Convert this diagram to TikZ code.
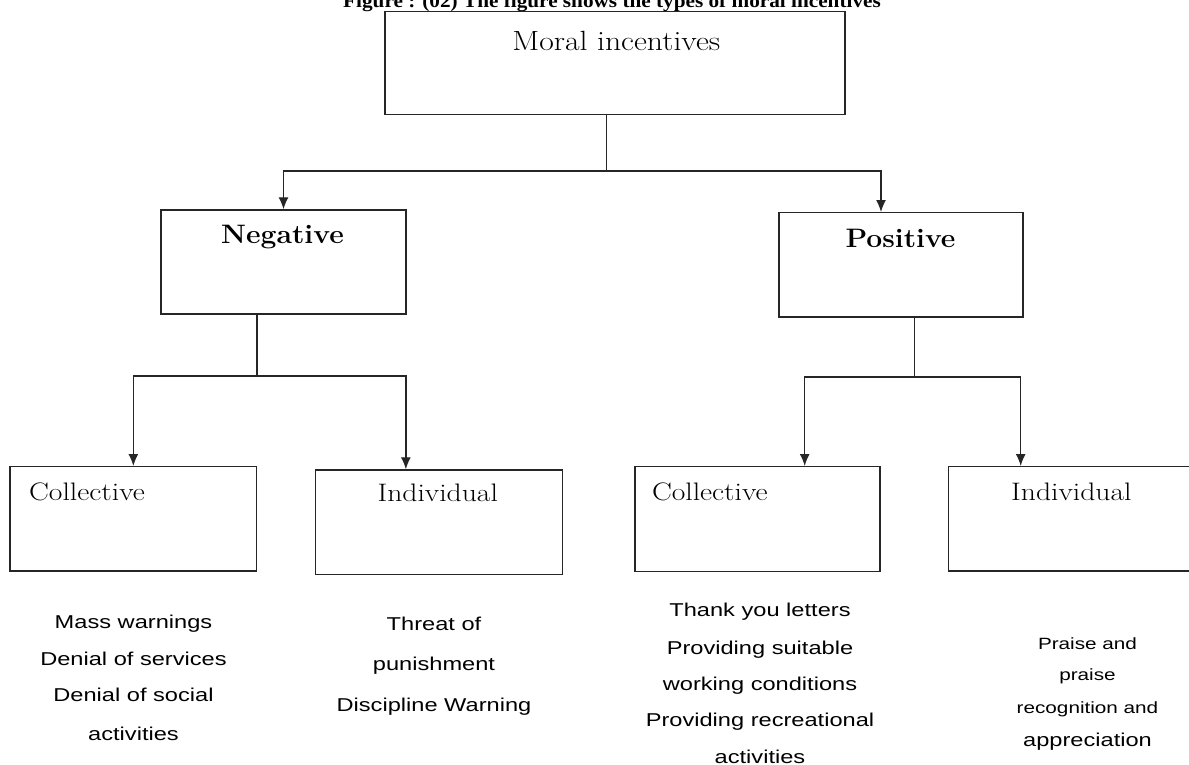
\documentclass[tikz,border=0pt]{standalone}
\usepackage{fontspec}
\usetikzlibrary{arrows.meta}
\newfontfamily\sansf[FakeStretch=1.27]{Liberation Sans}
\newfontfamily\titlef[FakeStretch=1.1]{Liberation Serif}
\newcommand{\sxr}[2]{\scalebox{#1}[1]{#2}}
\tikzset{
  box/.style={draw=black!85, line width=1.4pt, rectangle, inner sep=0pt},
  conn/.style={draw=black!85, line width=1.3pt},
  arr/.style={conn, -{Latex[length=12pt,width=10pt]}},
  lab/.style={anchor=base, inner sep=0pt},
  item/.style={anchor=base, inner sep=0pt, font=\sansf\fontsize{18.6}{22}\selectfont},
  smallitem/.style={anchor=base, inner sep=0pt, font=\sansf\fontsize{16.3}{20}\selectfont},
  serifl/.style={font=\fontsize{25.3}{28}\selectfont},
  boldl/.style={font=\bfseries\fontsize{26.7}{29}\selectfont}
}
\begin{document}
\begin{tikzpicture}[x=1pt,y=-1pt]
\useasboundingbox (0,0) rectangle (1189,765);

% title (cut at the top, as in the reference)
\node[lab, font=\titlef\bfseries\fontsize{19.3}{22}\selectfont] (title) at (612,8)
  {Figure : (02) The figure shows the types of moral incentives};

% boxes
\node[box, minimum width=460pt, minimum height=102.6pt] (top) at (615,63) {};
\node[box, minimum width=245pt, minimum height=104pt] (neg) at (283.5,262) {};
\node[box, minimum width=244pt, minimum height=104.3pt] (pos) at (901,264.85) {};
\node[box, minimum width=246.7pt, minimum height=104.3pt] (cl) at (133.35,518.85) {};
\node[box, minimum width=247.1pt, minimum height=104.3pt] (ni) at (438.85,522.15) {};
\node[box, minimum width=245pt, minimum height=105pt] (pc) at (757.5,519.2) {};
\node[box, minimum width=246.2pt, minimum height=104.3pt] (pi) at (1071.4,518.85) {};

% box labels
\node[lab, font=\fontsize{27.8}{30}\selectfont] (tmoral) at (616.3,50.7) {\sxr{1.14}{Moral incentives}};
\node[lab, boldl] (tneg) at (282.5,243) {\sxr{1.06}{Negative}};
\node[lab, boldl] (tpos) at (900.5,247) {\sxr{1.06}{Positive}};
\node[lab, serifl, anchor=base west] (tcl) at (29,500.7) {\sxr{1.17}{Collective}};
\node[lab, serifl] (tni) at (437.8,501.7) {\sxr{1.17}{Individual}};
\node[lab, serifl, anchor=base west] (tpc) at (651.8,500) {\sxr{1.17}{Collective}};
\node[lab, serifl] (tpi) at (1071.4,500.7) {\sxr{1.17}{Individual}};

% connectors
\coordinate (j0) at (606.5,171);
\draw[conn] (j0 |- top.south) -- (j0);
\draw[arr] (j0) -| (neg.north);
\draw[arr] (j0) -| ([xshift=-20pt]pos.north);

\coordinate (jn) at (257,376);
\draw[conn] (jn |- neg.south) -- (jn);
\draw[arr] (jn) -| (cl.north);
\draw[arr] (jn) -| ([xshift=-33pt]ni.north);

\coordinate (jp) at (914.7,377);
\draw[conn] (jp |- pos.south) -- (jp);
\draw[arr] (jp) -| ([xshift=47.2pt]pc.north);
\draw[arr] (jp) -| ([xshift=-50.7pt]pi.north);

% lists
\node[item] (a1) at (133.5,628.3) {Mass warnings};
\node[item] (a2) at (133.5,665) {Denial of services};
\node[item] (a3) at (133.5,701.7) {Denial of social};
\node[item] (a4) at (133.5,740) {activities};

\node[item] (b1) at (434,630.7) {Threat of};
\node[item] (b2) at (434,670) {punishment};
\node[item] (b3) at (434,711.7) {Discipline Warning};

\node[item] (c1) at (760,616.7) {Thank you letters};
\node[item] (c2) at (760,654.3) {Providing suitable};
\node[item] (c3) at (760,690) {working conditions};
\node[item] (c4) at (760,726) {Providing recreational};
\node[item] (c5) at (760,763.3) {activities};

\node[smallitem] (d1) at (1087.5,649) {Praise and};
\node[smallitem] (d2) at (1087.5,680.7) {praise};
\node[smallitem] (d3) at (1087.5,713) {recognition and};
\node[item] (d4) at (1087.5,746.7) {appreciation};
\end{tikzpicture}
\end{document}
